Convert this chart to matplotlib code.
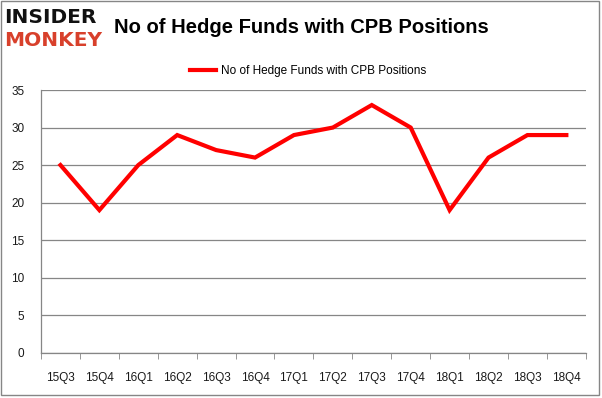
import matplotlib.pyplot as plt
import numpy as np
from matplotlib.patches import Rectangle

quarters = ['15Q3', '15Q4', '16Q1', '16Q2', '16Q3', '16Q4', '17Q1', '17Q2',
            '17Q3', '17Q4', '18Q1', '18Q2', '18Q3', '18Q4']
funds = [25, 19, 25, 29, 27, 26, 29, 30, 33, 30, 19, 26, 29, 29]
y_ticks = [0, 5, 10, 15, 20, 25, 30, 35]

plt.rcParams['font.family'] = ['Liberation Sans', 'DejaVu Sans']

fig = plt.figure(figsize=(6.02, 3.98), dpi=100, facecolor='white')
ax = fig.add_axes([0.0681, 0.1138, 0.905, 0.660])

x = np.arange(len(quarters))
ax.plot(x, funds, color='#ff0000', linewidth=3.0, solid_joinstyle='miter',
        label='No of Hedge Funds with CPB Positions', zorder=3)

ax.set_xlim(-0.5, len(quarters) - 0.5)
ax.set_ylim(0, 35)
ax.set_yticks(y_ticks)
ax.set_xticks(x)
ax.set_xticklabels(quarters)
ax.set_xticks(np.arange(-0.5, len(quarters)), minor=True)
ax.tick_params(axis='x', which='major', length=0, pad=14, labelsize=8.5, labelcolor='#1a1a1a')
ax.tick_params(axis='x', which='minor', length=4, color='#868686', direction='out')
ax.tick_params(axis='y', length=0, pad=12, labelsize=8.5, labelcolor='#1a1a1a')

ax.grid(axis='y', color='#868686', linewidth=0.9)
ax.set_axisbelow(True)
for side in ['top', 'right']:
    ax.spines[side].set_visible(False)
for side in ['left', 'bottom']:
    ax.spines[side].set_color('#868686')
    ax.spines[side].set_linewidth(0.9)

ax.legend(loc='lower center', bbox_to_anchor=(0.49, 1.01), frameon=False,
          fontsize=8.5, handlelength=2.2, handletextpad=0.4)

fig.text(0.5, 0.932, 'No of Hedge Funds with CPB Positions', ha='center', va='center',
         fontsize=14.5, fontweight='bold', color='black')

# logo
fig.text(0.007, 0.955, 'INSIDER', ha='left', va='center', fontsize=14.5,
         fontweight='heavy', color='#111111', family='DejaVu Sans')
fig.text(0.007, 0.897, 'MONKEY', ha='left', va='center', fontsize=14.5,
         fontweight='heavy', color='#d8402b', family='DejaVu Sans')

# outer border
fig.patches.append(Rectangle((0.002, 0.007), 0.993, 0.99, transform=fig.transFigure,
                             fill=False, edgecolor='#868686', linewidth=1.0))

fig.savefig('out.png', dpi=100, facecolor='white')
